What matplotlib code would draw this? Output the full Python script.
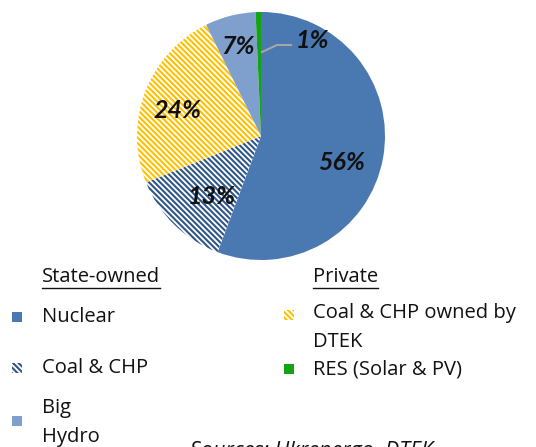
import matplotlib.pyplot as plt
from matplotlib.patches import Rectangle

# generation mix, clockwise from 12 o'clock
sources = ["Nuclear", "Coal & CHP", "Coal & CHP owned by DTEK", "Big Hydro", "RES (Solar & PV)"]
shares = [55.7, 13.2, 23.8, 6.6, 0.7]
label_text = ["56%", "13%", "24%", "7%", "1%"]
state_owned = ["Nuclear", "Coal & CHP", "Big\nHydro"]
private = ["Coal & CHP owned by\nDTEK", "RES (Solar & PV)"]

faces = ["#4a78b0", "white", "white", "#7f9fcc", "#13a313"]
hatch_colors = [None, "#2e5688", "#ffc000", None, None]
HATCH = "\\" * 6

plt.rcParams["font.family"] = ["Open Sans", "DejaVu Sans"]
plt.rcParams["hatch.linewidth"] = 1.5
W, H = 536, 447
fig = plt.figure(figsize=(W / 100, H / 100), dpi=100)

cx, cy, r = 261, 136, 124
ax = fig.add_axes([(cx - r) / W, 1 - (cy + r) / H, 2 * r / W, 2 * r / H])
wedges, _ = ax.pie(shares, startangle=90, counterclock=False, colors=faces,
                   wedgeprops=dict(linewidth=0))
for w, hc in zip(wedges, hatch_colors):
    if hc:
        w.set_hatch(HATCH)
        w.set_edgecolor(hc)
        w.set_linewidth(0)
ax.set_xlim(-1, 1)
ax.set_ylim(-1, 1)
ax.axis("off")


# data labels (pixel positions from the original layout)
def px(x, y):
    return ((x - cx) / r, (cy - y) / r)


label_pos = [(342, 163), (212, 196), (177, 111), (238, 47), (312, 40)]
for txt, (x, y) in zip(label_text, label_pos):
    ax.text(*px(x, y), txt, ha="center", va="center", fontsize=18,
            fontweight="bold", fontstyle="italic", color="#111111",
            family=["Lato", "DejaVu Sans"])
lx, ly = zip(px(262, 52), px(277, 45), px(291, 45))
ax.plot(lx, ly, color="#a6a6a6", lw=1.5)


# legend built by hand
def fx(x):
    return x / W


def fy(y):
    return 1 - y / H


tc = "#111111"
fs = 14.5
for x, t in [(42, "State-owned"), (313, "Private")]:
    ht = fig.text(fx(x), fy(277), t, fontsize=fs, color=tc, va="center")
    fig.canvas.draw()
    bb = ht.get_window_extent()
    fig.add_artist(plt.Line2D([fx(x), fx(x) + bb.width / W], [fy(288), fy(288)],
                              color=tc, lw=1))


def marker(x, y, face, hc=None):
    sq = Rectangle((fx(x - 5), fy(y + 5)), 10 / W, 10 / H, transform=fig.transFigure,
                   facecolor=face, linewidth=0)
    if hc:
        sq.set_hatch(HATCH)
        sq.set_edgecolor(hc)
    fig.add_artist(sq)


def entry(x, y, t):
    for j, line in enumerate(t.split("\n")):
        fig.text(fx(x), fy(y + 29 * j), line, fontsize=fs, color=tc, va="center")


ys_state = [317, 368, 408]
for t, y, k, my in zip(state_owned, ys_state, [0, 1, 3], [317, 368, 421]):
    marker(17, my, faces[k], hatch_colors[k])
    entry(42, y, t)

for t, y, k, my in zip(private, [313, 370], [2, 4], [315, 369]):
    marker(289, my, faces[k], hatch_colors[k])
    entry(313, y, t)

fig.text(fx(190), fy(441), "Sources: Ukrenergo, DTEK", fontsize=15.5, color=tc,
         va="top", fontstyle="italic")

fig.savefig("out.png", dpi=100)
